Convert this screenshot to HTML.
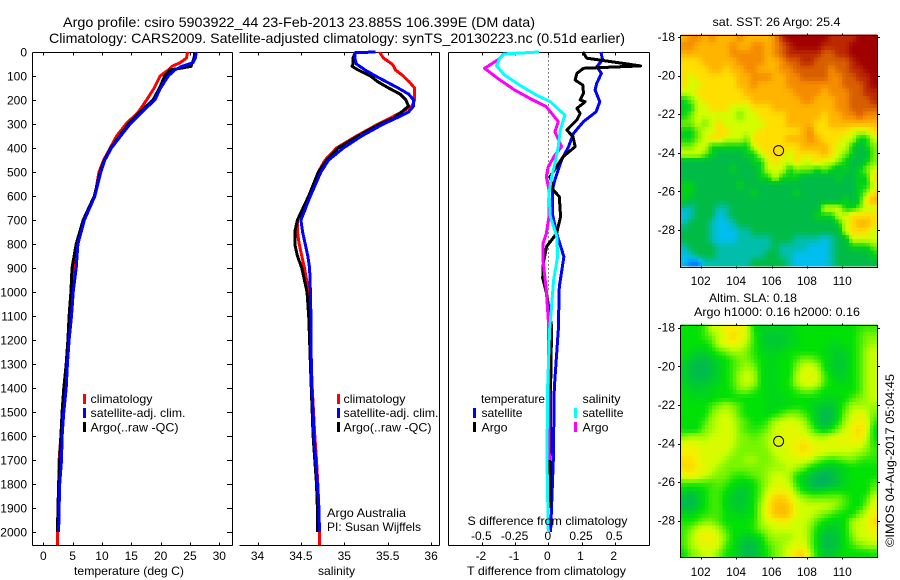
<!DOCTYPE html>
<html lang="en">
<head>
<meta charset="utf-8">
<title>Argo profile 5903922_44</title>
<style>
html,body{margin:0;padding:0;background:#fff;}
svg{display:block;}
text{font-family:"Liberation Sans",sans-serif;font-size:12px;fill:#000;}
.title{font-size:14px;}
.frame{stroke:#000;stroke-width:1;fill:none;shape-rendering:crispEdges;}
</style>
</head>
<body>
<svg id="chart" xmlns="http://www.w3.org/2000/svg" width="900" height="580" viewBox="0 0 900 580">
<rect x="0" y="0" width="900" height="580" fill="#fff"/>
<text class="title" x="63" y="27" textLength="472" lengthAdjust="spacingAndGlyphs">Argo profile: csiro 5903922_44 23-Feb-2013 23.885S 106.399E (DM data)</text>
<text class="title" x="49" y="43" textLength="576" lengthAdjust="spacingAndGlyphs">Climatology: CARS2009. Satellite-adjusted climatology: synTS_20130223.nc (0.51d earlier)</text>

<g id="map-sst"></g>
<g id="map-sla"></g>
<g id="axes"></g>
<g id="panel-temp"></g>
<g id="panel-sal"></g>
<g id="panel-diff"></g>

<text x="74" y="575" textLength="110" lengthAdjust="spacingAndGlyphs">temperature (deg C)</text>
<text x="318" y="575" textLength="37" lengthAdjust="spacingAndGlyphs">salinity</text>
<text x="467" y="575" textLength="159" lengthAdjust="spacingAndGlyphs">T difference from climatology</text>
<text x="467.5" y="525" textLength="160" lengthAdjust="spacingAndGlyphs">S difference from climatology</text>

<g shape-rendering="crispEdges">
<rect x="83" y="394" width="3" height="10" fill="#f00"/>
<rect x="83" y="408" width="3" height="10" fill="#00f"/>
<rect x="83" y="422" width="3" height="10" fill="#000"/>
<text x="90.5" y="403" textLength="62" lengthAdjust="spacingAndGlyphs">climatology</text>
<text x="90.5" y="417" textLength="95" lengthAdjust="spacingAndGlyphs">satellite-adj. clim.</text>
<text x="90.5" y="431.5" textLength="88" lengthAdjust="spacingAndGlyphs">Argo(..raw -QC)</text>
</g>
<g shape-rendering="crispEdges">
<rect x="337" y="394" width="3" height="10" fill="#f00"/>
<rect x="337" y="408" width="3" height="10" fill="#00f"/>
<rect x="337" y="422" width="3" height="10" fill="#000"/>
<text x="343.5" y="403" textLength="62" lengthAdjust="spacingAndGlyphs">climatology</text>
<text x="343.5" y="417" textLength="95" lengthAdjust="spacingAndGlyphs">satellite-adj. clim.</text>
<text x="343.5" y="431.5" textLength="88" lengthAdjust="spacingAndGlyphs">Argo(..raw -QC)</text>
</g>
<text x="327" y="517" textLength="79" lengthAdjust="spacingAndGlyphs">Argo Australia</text>
<text x="327" y="531" textLength="94" lengthAdjust="spacingAndGlyphs">PI: Susan Wijffels</text>

<g shape-rendering="crispEdges">
<rect x="473" y="408" width="3" height="10" fill="#00f"/>
<rect x="473" y="422" width="3" height="10" fill="#000"/>
<rect x="574" y="408" width="3" height="10" fill="#0ff"/>
<rect x="574" y="422" width="3" height="10" fill="#f0f"/>
<text x="481" y="403" textLength="64" lengthAdjust="spacingAndGlyphs">temperature</text>
<text x="481.5" y="417" textLength="41" lengthAdjust="spacingAndGlyphs">satellite</text>
<text x="481.5" y="431.5" textLength="26" lengthAdjust="spacingAndGlyphs">Argo</text>
<text x="582.5" y="403" textLength="38" lengthAdjust="spacingAndGlyphs">salinity</text>
<text x="582.5" y="417" textLength="41" lengthAdjust="spacingAndGlyphs">satellite</text>
<text x="582.5" y="431.5" textLength="26" lengthAdjust="spacingAndGlyphs">Argo</text>
</g>

<text x="712.5" y="26" textLength="128" lengthAdjust="spacingAndGlyphs">sat. SST: 26 Argo: 25.4</text>
<text x="709" y="302" textLength="88" lengthAdjust="spacingAndGlyphs">Altim. SLA: 0.18</text>
<text x="694" y="316" textLength="166" lengthAdjust="spacingAndGlyphs">Argo h1000: 0.16 h2000: 0.16</text>
<text transform="translate(894,547) rotate(-90)" x="0" y="0" textLength="173" lengthAdjust="spacingAndGlyphs">©IMOS 04-Aug-2017 05:04:45</text>
</svg>

<script>
// ---------- profile data ----------
const depthTicks = [0,100,200,300,400,500,600,700,800,900,1000,1100,1200,1300,1400,1500,1600,1700,1800,1900,2000];
const tempTicks = [0,5,10,15,20,25,30];
const salTicks = [34,34.5,35,35.5,36];
const salTickLabels = ['34','34.5','35','35.5','36'];
const tDiffTicks = [-2,-1,0,1,2];
const sDiffTicks = [-0.5,-0.25,0,0.25,0.5];
const sDiffTickLabels = ['-0.5','-0.25','0','0.25','0.5'];

const tempDepths = [0,25,45,60,75,100,150,200,250,300,350,400,450,500,600,700,800,900,1000,1100,1200,1300,1400,1500,1600,1700,1800,1900,2000,2054];
const tempClim = [24.6,24.4,23.3,21.9,21.3,19.9,18.9,17.6,16.2,14.1,12.5,11.4,10.3,9.5,8.8,6.9,5.8,5.4,4.8,4.5,4.3,4.0,3.7,3.2,3.0,2.7,2.7,2.5,2.4,2.4];
const tempArgo = [25.8,25.7,25.4,25.2,21.6,20.7,19.8,18.7,16.5,14.5,13,11.5,10.4,9.7,8.7,6.8,5.6,4.9,4.7,4.4,4.2,3.9,3.5,3.2,3.0,2.8,2.6,2.5,2.4];
const tempSat = [26.1,25.9,25.5,23.6,22.4,21.3,20,19,16.8,14.8,13.2,11.6,10.5,9.8,8.8,7,5.9,5.6,5.1,4.8,4.4,4.1,3.9,3.5,3.2,3.1,2.8,2.7,2.6];

const salDepths = [0,3,25,50,60,75,100,125,150,175,200,225,250,275,300,350,400,450,500,600,700,750,800,850,900,1000,1100,1200,1300,1400,1500,1600,1700,1800,1900,2000,2054];
const salClim = [35.41,35.41,35.45,35.55,35.57,35.59,35.68,35.75,35.81,35.81,35.81,35.78,35.66,35.53,35.39,35.14,34.91,34.78,34.70,34.59,34.46,34.46,34.48,34.51,34.54,34.59,34.60,34.61,34.62,34.63,34.645,34.66,34.68,34.695,34.707,34.714,34.714];
const salArgo = [35.125,35.125,35.1,35.1,35.09,35.16,35.3,35.39,35.51,35.64,35.71,35.74,35.66,35.57,35.41,35.16,34.93,34.8,34.7,34.59,34.46,34.43,34.43,34.46,34.51,34.57,34.59,34.60,34.61,34.62,34.63,34.64,34.66,34.68,34.69,34.69];
const salSat = [35.36,35.125,35.12,35.14,35.18,35.24,35.36,35.49,35.62,35.74,35.80,35.80,35.74,35.60,35.45,35.20,34.99,34.82,34.73,34.61,34.50,34.52,34.55,34.58,34.60,34.61,34.615,34.617,34.62,34.625,34.64,34.65,34.67,34.69,34.707,34.714];

const tSatDepths = [0,33,61,89,130,158,207,249,290,339,394,450,533,575,672,756,853,978,1158,1400,1700,2000];
const tSatDiff = [1.58,1.64,1.46,1.60,1.46,1.41,1.55,1.44,1.06,0.76,0.61,0.40,0.20,0.12,0.12,0.25,0.47,0.33,0.30,0.18,0.15,0.07];
const tArgoDepths = [0,26,36,58,68,89,117,138,172,200,207,235,256,283,325,353,394,436,478,519,575,603,686,756,811,881,943,1006,1144,1400,1900];
const tArgoDiff = [1.04,1.16,1.67,2.78,1.06,0.86,0.81,1.04,1.06,0.96,1.11,0.86,0.96,0.86,0.56,0.74,0.81,0.45,0.25,0.05,0.15,0.33,0.37,0.25,-0.05,-0.15,-0.17,-0.05,0.10,0.07,0.05];
const sArgoDepths = [6,33,68,110,158,193,228,290,332,394,429,478,519,575,686,756,797,867,992,1117,1158,1700];
const sArgoDiff = [-0.33,-0.38,-0.48,-0.38,-0.255,-0.14,-0.015,0.075,0.05,0.1,0.05,0,-0.015,0.005,0.005,-0.015,-0.04,-0.04,-0.015,0,0,0.0075];
const sSatDepths = [0,8,26,58,96,138,179,207,263,325,394,464,519,589,686,769,853,950,1089,1158,1400,1700,2000];
const sSatDiff = [-0.07,-0.33,-0.365,-0.39,-0.33,-0.215,-0.09,0.015,0.125,0.09,0.075,0.05,0.025,0.005,0.015,0.065,0.07,0.04,0.02,0.01,-0.005,-0.01,0];

// ---------- map data ----------
const lonTicks = [102,104,106,108,110];
const latTicks = [-18,-20,-22,-24,-26,-28];
const floatLon = 106.399;
const floatLat = -23.885;

const sstGrid = [
[8,9,9,8,9,8,8,8,9,8,8,8,8,9,11,12,12,12,12,12,12,11,11,11,11,12,12,12],
[9,9,8,8,8,8,8,9,8,8,9,9,8,9,10,11,12,12,12,12,11,11,11,11,12,12,12,12],
[8,8,8,8,8,8,8,9,9,9,9,9,8,9,10,11,11,11,11,11,10,10,11,11,12,12,12,12],
[7,7,7,8,8,8,8,8,9,9,9,9,8,8,9,10,10,11,11,10,10,10,10,10,11,12,12,12],
[7,7,7,7,8,8,7,8,8,9,9,8,8,8,9,9,10,10,10,10,10,9,10,10,11,11,12,12],
[7,6,7,7,7,7,7,7,8,8,9,9,9,8,8,9,9,10,10,10,10,9,9,10,10,11,11,12],
[7,6,6,7,7,7,7,7,8,8,9,8,8,8,8,9,9,9,9,9,9,9,9,10,10,10,11,12],
[6,6,7,7,7,7,7,7,7,8,8,8,8,8,8,8,9,9,9,9,8,9,9,9,10,10,11,11],
[4,5,6,7,7,7,7,7,7,7,8,8,8,8,8,8,8,9,9,8,8,8,9,9,10,10,10,11],
[4,4,6,6,7,7,7,6,6,6,7,7,7,8,8,8,8,8,8,8,8,8,9,9,10,10,10,10],
[4,5,6,6,6,6,6,6,5,6,6,7,7,7,7,8,8,8,8,8,7,8,8,9,9,10,9,9],
[5,5,6,5,6,7,6,6,6,6,6,6,7,7,7,8,8,8,8,7,7,8,8,8,8,8,8,8],
[4,4,5,6,6,7,7,6,6,6,6,7,7,7,7,7,7,8,9,7,7,7,7,7,6,6,6,7],
[4,4,5,6,7,7,6,6,6,5,7,7,7,7,7,8,8,8,9,8,7,7,7,6,6,4,4,6],
[5,5,6,6,4,4,4,4,4,4,6,7,7,7,7,7,7,8,8,8,8,7,6,6,4,3,4,5],
[6,6,6,5,4,3,3,3,3,4,4,6,7,7,7,6,7,7,7,7,8,7,6,5,4,3,3,5],
[3,3,3,3,3,3,3,3,3,3,4,4,6,7,6,6,7,6,6,7,6,6,5,4,3,3,4,5],
[3,3,3,3,3,3,3,4,3,3,3,4,6,6,6,4,5,5,5,4,5,4,3,4,3,4,5,6],
[3,3,3,3,3,3,3,3,3,3,3,4,4,6,4,4,4,3,3,3,3,3,4,3,3,4,4,7],
[4,4,3,3,3,3,3,3,4,3,3,3,3,3,3,3,3,3,3,3,3,3,3,3,3,4,4,6],
[4,4,3,3,3,3,3,3,3,3,4,3,3,3,3,3,4,3,3,3,3,3,3,3,3,4,5,7],
[4,3,3,3,3,3,3,3,3,3,3,3,3,3,3,3,3,3,3,3,3,3,3,4,3,4,7,8],
[2,2,3,3,3,2,2,3,3,3,3,3,3,3,3,3,3,3,3,3,6,6,6,4,4,5,6,6],
[1,2,3,3,3,1,2,3,3,3,3,3,3,3,3,3,3,3,3,4,4,4,6,6,7,7,7,7],
[2,3,3,3,2,1,1,2,3,3,3,3,3,3,3,3,3,3,3,3,3,3,4,6,7,8,8,7],
[3,3,3,3,2,1,1,1,2,2,3,3,3,3,3,3,3,3,3,3,3,3,3,6,7,7,7,6],
[3,3,3,3,2,1,1,1,2,2,2,2,2,3,3,3,2,2,2,2,1,2,3,3,6,6,6,6],
[2,3,3,3,3,2,2,2,2,2,2,2,2,3,2,2,2,2,1,1,1,2,3,3,4,4,4,5],
[1,2,3,3,3,2,2,2,2,2,2,2,3,3,2,2,1,1,1,1,1,2,3,3,3,3,3,4],
[1,0,0,2,2,2,2,2,2,2,3,3,3,3,3,2,1,1,1,1,1,2,3,3,3,3,3,3]
];

const slaGrid = [
[4,4,4,4.5,6,6,7,7,7,6,4,3.7,3.7,3.7,3.7,3.7,4,4,4,4,4,4,4,4,4,4.3,4.5,4.5],
[4,4,4,4.5,5,6,6.7,7.5,7,6,4.3,3.7,3.5,3.5,3.5,3.7,3.8,4,4,4,4,4,4,4,4,4.5,5,5],
[4,4,4,4,4.5,6,6.5,7,6.5,5.5,4.3,3.7,3.5,3.5,3.5,3.7,3.8,4,4,4,4,3.8,3.8,4,4,4.5,5,5.5],
[4,3.8,3.7,3.7,4,4.5,5,5.5,5.5,5,4.3,3.8,3.7,3.7,3.8,4,4,4,4,4,3.8,3.7,3.6,3.7,4,4.5,5.5,6],
[3.8,3.5,3.3,3.3,3.5,3.8,4,4.5,5,5,4.5,4,3.8,3.8,4,4,4.5,5,5,4.5,4,3.7,3.5,3.6,4,4.5,5.5,6],
[3.6,3.3,3.2,3.2,3.4,3.7,4,4.5,5,5.5,5,4,3.8,3.8,4,4,5,6,6.3,5.5,4,3.7,3.5,3.6,4,4.5,5.5,6],
[3.6,3.3,3.2,3.2,3.4,3.7,4,4.5,5.5,6,5.5,4,3.8,3.8,4,4,5.5,6.3,6.5,6,4.5,3.8,3.6,3.7,4,4.5,5.5,6],
[3.7,3.5,3.4,3.5,3.6,3.8,4,4.5,5.5,6,5.5,4,3.8,3.8,4,4.2,5.5,6.3,6.5,6,4.5,4,3.8,3.8,4,4.5,5.5,6],
[3.8,3.7,3.6,3.7,3.8,4,4,4.3,5,5,4.5,4,3.8,3.8,4,4,4.5,5,5,4.5,4,4,4,4,4,4.5,5.5,6],
[4,3.8,3.8,3.8,3.8,4,4,4,4,4,4,4,3.8,3.8,3.8,4,4,4,4,4,3.8,3.8,3.8,4,4.5,5,5.5,6],
[4,4,4,4,4.5,5,5.5,5,4.5,4,4,4,3.8,3.8,3.8,3.8,4,4,3.8,3.6,3.5,3.5,3.8,4.5,5.5,5.5,5.5,5.5],
[4,4,4,4,5,5.8,6,5.5,4.5,4,4,4,3.8,4,4.5,5,5,4.5,4,3.5,3.2,3.3,3.8,5,6,6.5,6,5],
[4,4,4,4.5,5.5,6,6.3,5.8,5,4.5,4,4,4.5,5.5,6,6.3,6,5.5,4.3,3.5,3.2,3.4,4,5.5,6.5,7,6.5,4.5],
[4,3.8,4,5,5.5,6,6.3,6,5,4.5,4.3,4.5,5,6,6.5,6.5,6.5,6,5,4,3.5,4,5,6,7,7.5,6.5,4],
[5,5.5,5.5,5.5,6,6.3,6.3,6,5.2,5,4.7,5,5.5,6.3,6.5,6.5,6.5,6.5,6,5.5,5.5,6,6.5,6.5,7,7.3,6,4],
[6.5,6.7,6.5,6,6.3,6.3,6.3,5.8,5.2,5,5,5,5.5,6.3,6.5,6.5,7,7.5,7,6.5,6.5,6.5,6.5,6.5,6.5,6.5,5.5,4.3],
[7,7,6.8,6.3,6.3,6.3,6,5.5,5,5,5,5,5.2,6,6,6.5,7,7.3,7,6.5,6.3,6,6,6,5.8,5.5,5,4.5],
[7.3,7.3,7,6.3,6.3,6,5.5,5,5,5.5,5.5,5,5,5.5,6,6,6.3,6.3,6,5,4.5,4.3,4.5,4.8,5,4.5,4.3,4.3],
[7.5,7.5,7,6.5,6,5.5,5,5,5,5,5,5,5.3,5.5,5.5,6,5.5,5,4,3.8,3.5,3.5,3.6,3.8,4,4,4,4],
[6.5,7,6.5,6,5.5,5,5,4.5,4.3,4.5,4.8,5,5.5,6,6,5.5,4.2,3.7,3.4,3.2,3.0,3.2,3.5,3.8,4,4,4,4],
[4.5,4.5,4.5,4.5,4.5,4.8,4.5,4,3.8,3.8,4,4.8,5.5,6.3,6.3,5.8,4.2,3.7,3.3,3.0,3.0,3.2,3.5,3.8,4,4,4,4.5],
[3.7,3.5,3.7,4,4.5,4.5,4,3.7,3.5,3.6,4,4.8,6,6.8,7,6.5,5,4,3.8,3.7,3.8,4,4,4,4,4,4,5],
[3.3,3.2,3.5,4,4.5,4.5,3.8,3.6,3.4,3.6,4,5,6.8,7.7,7.8,7.2,6,5.5,5,5,5,5,5,4.5,4,4,4.5,6],
[3.2,3.2,3.5,4,4.5,4.5,3.8,3.6,3.5,3.7,4,5.5,7,8,8.2,7.8,6.5,6,6,6,6,5.8,5,4.5,4,4,5,6.5],
[3.7,3.7,4,4.3,4.5,4.5,4,3.8,3.7,3.8,4,5.5,7,8,8.2,7.8,6.5,6,6,5.5,5,4.5,4.2,4,4,5,6,7],
[4.2,4.2,4.5,5,5,4.5,4,4,4,4,4.2,5.5,6.3,6.8,7,6.8,6,6,5.5,4.5,4,3.8,3.8,4,5.5,6,6.5,7.5],
[4.5,5,6,6.5,6.3,5.5,4.5,4,4,4,4.3,5,5.5,6,6,6,6,6,5,4,3.6,3.5,3.7,4,5.5,6,6.5,7],
[4.5,5.5,6.5,7,7,6,5,4,3.8,3.5,3.7,4,5,5.5,5.5,5.5,6,6,5,3.8,3.3,3.3,3.5,4,5,6,6,6.5],
[4.5,5.5,6,6.5,6.5,6,4.5,4,3.5,3.2,3.3,3.7,4.5,5,5.5,6,6.5,6.5,5,3.8,3.3,3.3,3.5,4,4.5,5,5.5,5.5],
[4,5,5.5,6,6,5,4.2,3.8,3.5,3.2,3.3,3.7,4.2,5,5.5,6.5,7.5,7.5,5.5,4,3.5,3.5,3.8,4,4,4,4,4.2]
];

const sstColormap = [
[0,130,250],[0,190,240],[0,190,170],[0,187,70],[0,210,25],[120,240,0],[210,255,0],
[255,222,0],[255,180,0],[245,140,0],[215,95,0],[188,40,0],[160,0,0]
];
const slaColormap = [
[0,130,250],[0,190,240],[0,190,170],[0,178,95],[0,225,5],[120,245,0],[205,255,0],
[245,240,0],[255,195,0],[245,140,0],[215,95,0],[188,40,0],[160,0,0]
];

// ---------- axis functions ----------
const NS = 'http://www.w3.org/2000/svg';
function yDepth(d){ return 52 + 0.24 * d; }
function xTemp(t){ return 43.3 + 5.867 * t; }
function xSal(s){ return 344.3 + 86.8 * (s - 35); }
function xTDiff(t){ return 548.3 + 33.2 * t; }
function xSDiff(s){ return 548.3 + 132.8 * s; }
function lonX(lon){ return 700.7 + 17.7 * (lon - 102); }

function make(tag, parent, name){
  const node = document.createElementNS(NS, tag);
  
  
  parent.appendChild(node);
  return node;
}
function seg(parent, x1, y1, x2, y2, name){
  const l = make('line', parent, name);
  l.setAttribute('x1', x1); l.setAttribute('y1', y1);
  l.setAttribute('x2', x2); l.setAttribute('y2', y2);
  l.setAttribute('stroke', '#000'); l.setAttribute('stroke-width', 1);
  l.setAttribute('shape-rendering', 'crispEdges');
  return l;
}
function label(parent, str, x, y, anchor, name){
  const t = make('text', parent, name);
  t.setAttribute('x', x); t.setAttribute('y', y);
  t.setAttribute('text-anchor', anchor);
  t.textContent = str;
  return t;
}
function profile(parent, depths, values, xFn, color, name){
  const pts = [];
  for (let i = 0; i < values.length; i++) {
    pts.push(xFn(values[i]).toFixed(1) + ',' + yDepth(depths[i]).toFixed(1));
  }
  const p = make('polyline', parent, name);
  p.setAttribute('points', pts.join(' '));
  p.setAttribute('fill', 'none');
  p.setAttribute('stroke', color);
  p.setAttribute('stroke-width', 3);
  p.setAttribute('stroke-linejoin', 'round');
  p.setAttribute('shape-rendering', 'crispEdges');
}

// ---------- panel axes ----------
const axes = document.getElementById('axes');
const TOP = 52.5, BOT = 545.5;

// temperature panel frame
seg(axes, 32.5, TOP, 232.5, TOP, 'temperature-top-spine');
seg(axes, 32.5, BOT, 232.5, BOT, 'temperature-bottom-spine');
seg(axes, 32.5, TOP, 32.5, BOT, 'temperature-left-spine');
seg(axes, 232.5, TOP, 232.5, BOT, 'temperature-right-spine');
depthTicks.forEach(function(d){
  const y = Math.round(yDepth(d)) + 0.5;
  seg(axes, 32.5, y, 36, y, 'depth-tick-left');
  seg(axes, 227, y, 232.5, y, 'depth-tick-right');
  label(axes, String(d), 27, yDepth(d) + 4.5, 'end', 'depth-tick-label');
});
tempTicks.forEach(function(t){
  const x = Math.round(xTemp(t)) + 0.5;
  seg(axes, x, TOP, x, TOP + 3, 'temperature-tick-top');
  seg(axes, x, BOT - 3, x, BOT, 'temperature-tick-bottom');
  label(axes, String(t), xTemp(t), 560, 'middle', 'temperature-tick-label');
});

// salinity panel frame (no left spine)
seg(axes, 239.5, TOP, 439.5, TOP, 'salinity-top-spine');
seg(axes, 239.5, BOT, 439.5, BOT, 'salinity-bottom-spine');
seg(axes, 439.5, TOP, 439.5, BOT, 'salinity-right-spine');
salTicks.forEach(function(s, i){
  const x = Math.round(xSal(s)) + 0.5;
  seg(axes, x, TOP, x, TOP + 3, 'salinity-tick-top');
  seg(axes, x, BOT - 3, x, BOT, 'salinity-tick-bottom');
  label(axes, salTickLabels[i], xSal(s), 560, 'middle', 'salinity-tick-label');
});

// difference panel frame
seg(axes, 448.5, TOP, 649.5, TOP, 'difference-top-spine');
seg(axes, 448.5, BOT, 649.5, BOT, 'difference-bottom-spine');
seg(axes, 448.5, TOP, 448.5, BOT, 'difference-left-spine');
seg(axes, 649.5, TOP, 649.5, BOT, 'difference-right-spine');
tDiffTicks.forEach(function(t){
  const x = Math.round(xTDiff(t)) + 0.5;
  seg(axes, x, TOP, x, TOP + 3, 'difference-tick-top');
  seg(axes, x, BOT - 3, x, BOT, 'difference-tick-bottom');
  label(axes, String(t), xTDiff(t) - 1, 560, 'middle', 'difference-t-tick-label');
});
sDiffTicks.forEach(function(s, i){
  label(axes, sDiffTickLabels[i], xSDiff(s) - 0.5, 540, 'middle', 'difference-s-tick-label');
});
const zeroLine = seg(axes, 548.5, TOP, 548.5, 292, 'zero-reference-line');
zeroLine.setAttribute('stroke-dasharray', '1 3');

// ---------- profiles ----------
const pT = document.getElementById('panel-temp');
profile(pT, tempDepths, tempClim, xTemp, '#f00', 'temperature-climatology-line');
profile(pT, tempDepths, tempArgo, xTemp, '#000', 'temperature-argo-line');
profile(pT, tempDepths, tempSat, xTemp, '#00f', 'temperature-satellite-line');

const pS = document.getElementById('panel-sal');
profile(pS, salDepths, salClim, xSal, '#f00', 'salinity-climatology-line');
profile(pS, salDepths, salArgo, xSal, '#000', 'salinity-argo-line');
profile(pS, salDepths, salSat, xSal, '#00f', 'salinity-satellite-line');

const pD = document.getElementById('panel-diff');
profile(pD, tSatDepths, tSatDiff, xTDiff, '#00f', 't-satellite-difference-line');
profile(pD, tArgoDepths, tArgoDiff, xTDiff, '#000', 't-argo-difference-line');
profile(pD, sArgoDepths, sArgoDiff, xSDiff, '#f0f', 's-argo-difference-line');
profile(pD, sSatDepths, sSatDiff, xSDiff, '#0ff', 's-satellite-difference-line');

// ---------- maps ----------
function colour(map, v){
  const c = Math.max(0, Math.min(map.length - 1.001, v));
  const i = Math.floor(c), f = c - i;
  const a = map[i], b = map[i + 1];
  return 'rgb(' + Math.round(a[0] + (b[0] - a[0]) * f) + ',' +
                  Math.round(a[1] + (b[1] - a[1]) * f) + ',' +
                  Math.round(a[2] + (b[2] - a[2]) * f) + ')';
}
function sample(grid, u, v){
  const rows = grid.length, cols = grid[0].length;
  const x = Math.max(0, Math.min(cols - 1, u)), y = Math.max(0, Math.min(rows - 1, v));
  const x0 = Math.floor(x), y0 = Math.floor(y);
  const x1 = Math.min(cols - 1, x0 + 1), y1 = Math.min(rows - 1, y0 + 1);
  const fx = x - x0, fy = y - y0;
  return (grid[y0][x0] * (1 - fx) + grid[y0][x1] * fx) * (1 - fy) +
         (grid[y1][x0] * (1 - fx) + grid[y1][x1] * fx) * fy;
}
function drawMap(id, grid, cmap, top, bottom, lat18, prefix){
  const g = document.getElementById(id);
  const left = 680.5, right = 877;
  const cols = grid[0].length, rows = grid.length;
  const latY = function(lat){ return lat18 + 19.3 * (-18 - lat); };
  const nx = cols * 2, ny = rows * 2;
  const w = (right - left) / nx, h = (bottom - top) / ny;
  const cells = make('g', g, prefix + '-heatmap');
  cells.setAttribute('shape-rendering', 'crispEdges');
  for (let r = 0; r < ny; r++) {
    for (let c = 0; c < nx; c++) {
      const cell = make('rect', cells, prefix + '-cell');
      cell.setAttribute('x', (left + c * w).toFixed(2));
      cell.setAttribute('y', (top + r * h).toFixed(2));
      cell.setAttribute('width', (w + 0.4).toFixed(2));
      cell.setAttribute('height', (h + 0.4).toFixed(2));
      cell.setAttribute('fill', colour(cmap, sample(grid, (c + 0.5) / 2 - 0.5, (r + 0.5) / 2 - 0.5)));
    }
  }
  const f = make('rect', g, prefix + '-frame');
  f.setAttribute('x', 680.5); f.setAttribute('y', Math.round(top) + 0.5);
  f.setAttribute('width', 197); f.setAttribute('height', Math.round(bottom - top));
  f.setAttribute('class', 'frame');
  latTicks.forEach(function(lat){
    const y = Math.round(latY(lat)) + 0.5;
    seg(g, 678, y, 680.5, y, prefix + '-lat-tick-left');
    seg(g, 877.5, y, 880, y, prefix + '-lat-tick-right');
    label(g, String(lat), 675, latY(lat) + 4, 'end', prefix + '-lat-label');
  });
  const bx = Math.round(bottom) + 0.5;
  lonTicks.forEach(function(lon){
    const x = Math.round(lonX(lon)) + 0.5;
    seg(g, x, Math.round(top) - 1.5, x, Math.round(top) + 0.5, prefix + '-lon-tick-top');
    seg(g, x, bx, x, bx + 2, prefix + '-lon-tick-bottom');
    label(g, String(lon), lonX(lon), bx + 18.5, 'middle', prefix + '-lon-label');
  });
  const m = make('circle', g, prefix + '-float-marker');
  m.setAttribute('cx', lonX(floatLon).toFixed(1));
  m.setAttribute('cy', latY(floatLat).toFixed(1));
  m.setAttribute('r', 5);
  m.setAttribute('fill', 'none');
  m.setAttribute('stroke', '#000');
  m.setAttribute('stroke-width', 1);
}
drawMap('map-sst', sstGrid, sstColormap, 34.5, 266, 37, 'sst');
drawMap('map-sla', slaGrid, slaColormap, 324.5, 556.5, 327.7, 'sla');
</script>
</body>
</html>
